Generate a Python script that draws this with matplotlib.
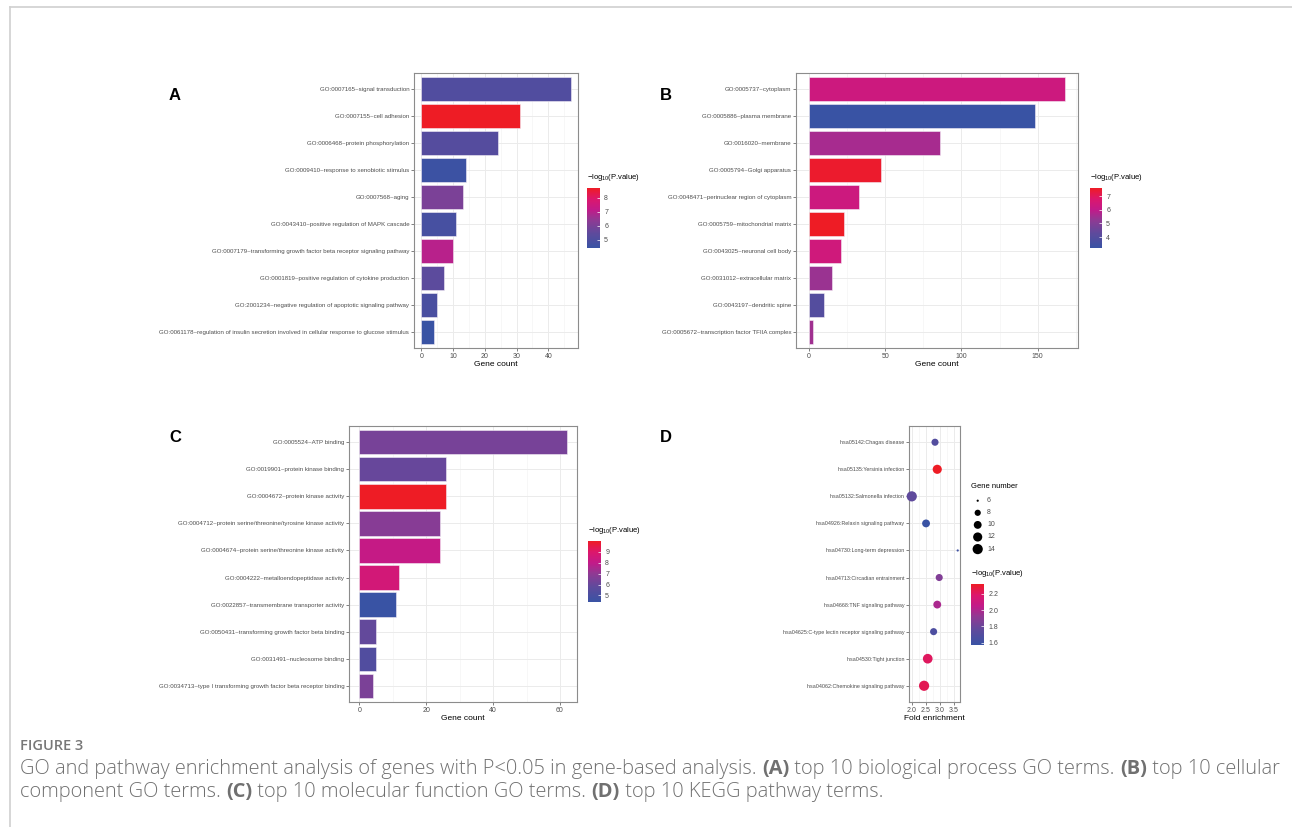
import numpy as np
import matplotlib
matplotlib.use("Agg")
import matplotlib.pyplot as plt
from matplotlib.colors import LinearSegmentedColormap, Normalize
from matplotlib.colorbar import ColorbarBase

W, H = 1292, 827
plt.rcParams['font.family'] = ['Liberation Sans', 'DejaVu Sans']
plt.rcParams['mathtext.fontset'] = 'custom'
plt.rcParams['mathtext.rm'] = 'Liberation Sans'
plt.rcParams['mathtext.it'] = 'Liberation Sans'

# ---- data ----
bp_terms = ["GO:0007165~signal transduction",
            "GO:0007155~cell adhesion",
            "GO:0006468~protein phosphorylation",
            "GO:0009410~response to xenobiotic stimulus",
            "GO:0007568~aging",
            "GO:0043410~positive regulation of MAPK cascade",
            "GO:0007179~transforming growth factor beta receptor signaling pathway",
            "GO:0001819~positive regulation of cytokine production",
            "GO:2001234~negative regulation of apoptotic signaling pathway",
            "GO:0061178~regulation of insulin secretion involved in cellular response to glucose stimulus"]
bp_count = [47, 31, 24, 14, 13, 11, 10, 7, 5, 4]
bp_logp = [5.1, 8.7, 5.2, 4.5, 6.0, 4.8, 7.0, 5.4, 4.9, 4.4]

cc_terms = ["GO:0005737~cytoplasm",
            "GO:0005886~plasma membrane",
            "GO:0016020~membrane",
            "GO:0005794~Golgi apparatus",
            "GO:0048471~perinuclear region of cytoplasm",
            "GO:0005759~mitochondrial matrix",
            "GO:0043025~neuronal cell body",
            "GO:0031012~extracellular matrix",
            "GO:0043197~dendritic spine",
            "GO:0005672~transcription factor TFIIA complex"]
cc_count = [168, 148, 86, 47, 33, 23, 21, 15, 10, 3]
cc_logp = [6.3, 3.2, 5.6, 7.5, 6.3, 7.6, 6.4, 5.4, 4.0, 5.5]

mf_terms = ["GO:0005524~ATP binding",
            "GO:0019901~protein kinase binding",
            "GO:0004672~protein kinase activity",
            "GO:0004712~protein serine/threonine/tyrosine kinase activity",
            "GO:0004674~protein serine/threonine kinase activity",
            "GO:0004222~metalloendopeptidase activity",
            "GO:0022857~transmembrane transporter activity",
            "GO:0050431~transforming growth factor beta binding",
            "GO:0031491~nucleosome binding",
            "GO:0034713~type I transforming growth factor beta receptor binding"]
mf_count = [62, 26, 26, 24, 24, 12, 11, 5, 5, 4]
mf_logp = [6.4, 6.0, 10.0, 6.8, 8.1, 8.6, 4.4, 5.9, 5.3, 6.5]

kegg_terms = ["hsa05142:Chagas disease",
              "hsa05135:Yersinia infection",
              "hsa05132:Salmonella infection",
              "hsa04926:Relaxin signaling pathway",
              "hsa04730:Long-term depression",
              "hsa04713:Circadian entrainment",
              "hsa04668:TNF signaling pathway",
              "hsa04625:C-type lectin receptor signaling pathway",
              "hsa04530:Tight junction",
              "hsa04062:Chemokine signaling pathway"]
kegg_fold = [2.82, 2.90, 1.99, 2.50, 3.63, 2.97, 2.90, 2.77, 2.56, 2.43]
kegg_genes = [9, 12, 14, 10, 6, 9, 10, 9, 13, 14]
kegg_logp = [1.70, 2.32, 1.76, 1.57, 1.60, 1.87, 1.99, 1.67, 2.21, 2.23]

cmap = LinearSegmentedColormap.from_list(
    "bluered", [(0.0, "#3953a4"), (0.25, "#5f4a9c"), (0.47, "#913993"),
                (0.64, "#c21a89"), (0.82, "#dc176c"), (1.0, "#ee1c25")])

fig = plt.figure(figsize=(W / 100, H / 100), dpi=100)
fig.patch.set_facecolor("white")


def px_axes(l, t, r, b):
    return fig.add_axes([l / W, 1 - b / H, (r - l) / W, (b - t) / H])


def style(ax, lab_size):
    for s in ax.spines.values():
        s.set_color("#8c8c8c")
        s.set_linewidth(0.8)
    ax.set_axisbelow(True)
    ax.grid(which="major", color="#ebebeb", linewidth=0.7)
    ax.grid(which="minor", axis="x", color="#f2f2f2", linewidth=0.4)
    ax.tick_params(axis="y", labelsize=lab_size, colors="#4d4d4d", length=2, width=0.5, pad=1.5)
    ax.tick_params(axis="x", labelsize=5, colors="#4d4d4d", length=2, width=0.5, pad=1.5)
    ax.tick_params(which="minor", length=0)


def bar_panel(box, terms, counts, logp, step, lab_size):
    ax = px_axes(*box)
    n = len(terms)
    y = np.arange(n)[::-1]
    norm = Normalize(min(logp), max(logp))
    ax.barh(y, counts, height=0.9, color=cmap(norm(np.array(logp))),
            edgecolor="#f4eef6", linewidth=0.4, zorder=2)
    ax.set_yticks(y)
    ax.set_yticklabels(terms)
    ax.set_ylim(-0.6, n - 0.4)
    span = max(counts)
    ax.set_xlim(-0.05 * span, span * 1.05)
    ax.set_xticks(np.arange(0, span + 1, step))
    ax.set_xticks(np.arange(step / 2, span * 1.05, step), minor=True)
    ax.set_xlabel("Gene count", fontsize=6, labelpad=1)
    style(ax, lab_size)
    return ax, norm


def colorbar(box, norm, ticks, fmt):
    cax = px_axes(*box)
    cb = ColorbarBase(cax, cmap=cmap, norm=norm, orientation="vertical")
    cb.outline.set_visible(False)
    cb.set_ticks(ticks)
    cb.set_ticklabels([fmt.format(t) for t in ticks])
    cax.tick_params(direction="in", color="white", length=2.5, width=0.5,
                    labelsize=5, labelcolor="#4d4d4d", pad=3)
    l, t, r, b = box
    fig.text(l / W, 1 - (t - 5) / H, r"$-\mathrm{log}_{10}$(P.value)",
             fontsize=5.5, ha="left", va="bottom")


axA, nA = bar_panel((414, 73, 578, 348), bp_terms, bp_count, bp_logp, 10, 4.4)
colorbar((587, 188, 600, 248), nA, [5, 6, 7, 8], "{:.0f}")

axB, nB = bar_panel((796, 73, 1078, 348), cc_terms, cc_count, cc_logp, 50, 4.4)
colorbar((1090, 188, 1102, 248), nB, [4, 5, 6, 7], "{:.0f}")

axC, nC = bar_panel((349, 426, 577, 702), mf_terms, mf_count, mf_logp, 20, 4.4)
colorbar((588, 541, 601, 602), nC, [5, 6, 7, 8, 9], "{:.0f}")

# ---- panel D ----
axD = px_axes(909, 426, 960, 702)
n = len(kegg_terms)
yk = np.arange(n)[::-1]
nD = Normalize(min(kegg_logp), max(kegg_logp))
gmin, gmax = 6, 14


def dot_size(g):
    d_px = 2.2 + 8.0 * np.sqrt((np.asarray(g, float) - gmin) / (gmax - gmin))
    return (d_px * 0.72) ** 2


axD.scatter(kegg_fold, yk, s=dot_size(kegg_genes), c=cmap(nD(np.array(kegg_logp))),
            linewidths=0, zorder=3, clip_on=False)
axD.set_yticks(yk)
axD.set_yticklabels(kegg_terms)
axD.set_ylim(-0.6, n - 0.4)
fspan = max(kegg_fold) - min(kegg_fold)
axD.set_xlim(min(kegg_fold) - 0.06 * fspan, max(kegg_fold) + 0.05 * fspan)
axD.set_xticks([2.0, 2.5, 3.0, 3.5])
axD.set_xticklabels(["2.0", "2.5", "3.0", "3.5"])
axD.set_xticks([2.25, 2.75, 3.25], minor=True)
axD.set_xlabel("Fold enrichment", fontsize=6, labelpad=1)
style(axD, 3.9)

# size legend
fig.text(971 / W, 1 - 487 / H, "Gene number", fontsize=5.5, ha="left", va="center")
leg_vals = [6, 8, 10, 12, 14]
lax = px_axes(965, 494, 1000, 555)
lax.set_xlim(0, 35)
lax.set_ylim(61, 0)
lax.axis("off")
ly = 6.7 + 12.1 * np.arange(len(leg_vals))
lax.scatter(np.full(len(leg_vals), 12.7), ly, s=dot_size(leg_vals), c="black", linewidths=0)
for v, yy in zip(leg_vals, ly):
    lax.text(22, yy, str(v), fontsize=5, color="#4d4d4d", va="center")

colorbar((971, 584, 984, 645), nD, [1.6, 1.8, 2.0, 2.2], "{:.1f}")

# panel letters
for lab, (x, y) in zip("ABCD", [(175, 95), (666, 95), (175, 438), (666, 438)]):
    fig.text(x / W, 1 - y / H, lab, fontsize=12, fontweight="bold", ha="center", va="center")

# frame lines
fig.add_artist(plt.Line2D([10 / W, 1], [1 - 7 / H, 1 - 7 / H], color="#d0d0d0", lw=1.2))
fig.add_artist(plt.Line2D([10 / W, 10 / W], [1 - 7 / H, 0], color="#d0d0d0", lw=1.2))

# caption
cap_font = ["Open Sans", "DejaVu Sans"]
fig.text(20 / W, 1 - 746 / H, "FIGURE 3", fontsize=10.5, fontweight="semibold",
         color="#777777", family=cap_font, va="center")
renderer = fig.canvas.get_renderer()
lines = [[("GO and pathway enrichment analysis of genes with P<0.05 in gene-based analysis. ", False),
          ("(A)", True), (" top 10 biological process GO terms. ", False),
          ("(B)", True), (" top 10 cellular", False)],
         [("component GO terms. ", False), ("(C)", True),
          (" top 10 molecular function GO terms. ", False), ("(D)", True),
          (" top 10 KEGG pathway terms.", False)]]
for ypx, segs in zip([769, 792], lines):
    x = 20
    for txt, bold in segs:
        t = fig.text(x / W, 1 - ypx / H, txt, fontsize=14.4, color="#707070",
                     family=cap_font, fontweight="bold" if bold else "light",
                     va="center")
        x += t.get_window_extent(renderer).width

fig.savefig("out.png", dpi=100)
